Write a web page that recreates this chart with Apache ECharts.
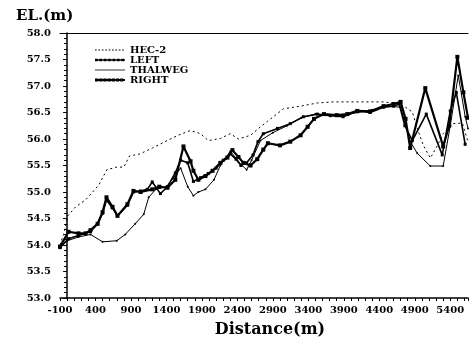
<!DOCTYPE html>
<html>
<head>
<meta charset="utf-8">
<script src="https://cdn.jsdelivr.net/npm/echarts@6/dist/echarts.min.js"></script>
<style>
html,body{margin:0;padding:0;background:#fff;}
#c{width:469px;height:343px;}
</style>
</head>
<body>
<div id="c"></div>
<script>
// ---- data (distance in m, elevation in m) ----
var seriesNames = ['HEC-2', 'LEFT', 'THALWEG', 'RIGHT'];

var hecX = [-100, -50, 10, 120, 260, 360, 450, 560, 700, 800, 880, 1030, 1200, 1410, 1565, 1735, 1880, 1990, 2160, 2300, 2415, 2585, 2725, 2820, 3050, 3290, 3530, 3750, 4030, 4460, 4700, 4865, 4935, 5020, 5120, 5220, 5300, 5440, 5570, 5650];
var hecY = [54.0, 54.2, 54.55, 54.72, 54.85, 55.0, 55.14, 55.42, 55.47, 55.47, 55.68, 55.72, 55.83, 55.97, 56.07, 56.16, 56.10, 55.97, 56.01, 56.10, 56.0, 56.07, 56.23, 56.33, 56.57, 56.62, 56.68, 56.70, 56.70, 56.70, 56.66, 56.51, 56.2, 55.88, 55.64, 55.88, 56.1, 56.29, 56.3, 55.95];

var leftX = [-100, 20, 160, 330, 430, 500, 555, 640, 710, 850, 935, 1035, 1130, 1200, 1315, 1415, 1525, 1600, 1700, 1780, 1880, 1990, 2100, 2200, 2300, 2380, 2450, 2530, 2620, 2690, 2765, 2965, 3145, 3330, 3525, 3710, 3890, 4090, 4270, 4460, 4600, 4680, 4760, 4865, 5062, 5287, 5400, 5485, 5610];
var leftY = [53.95, 54.12, 54.18, 54.25, 54.4, 54.6, 54.85, 54.7, 54.55, 54.75, 55.0, 55.02, 55.05, 55.19, 54.97, 55.1, 55.36, 55.6, 55.55, 55.2, 55.27, 55.35, 55.45, 55.6, 55.72, 55.62, 55.5, 55.55, 55.7, 55.95, 56.1, 56.2, 56.29, 56.42, 56.47, 56.44, 56.42, 56.53, 56.5, 56.6, 56.62, 56.66, 56.25, 55.97, 56.47, 55.7, 56.53, 56.88, 55.9];

var thalX = [-100, 0, 160, 330, 500, 700, 820, 960, 1080, 1150, 1250, 1400, 1500, 1600, 1700, 1780, 1850, 1950, 2070, 2160, 2300, 2380, 2450, 2530, 2600, 2725, 2900, 3100, 3300, 3500, 3700, 3900, 4100, 4300, 4500, 4700, 4837, 4935, 5118, 5300, 5400, 5513, 5611, 5650];
var thalY = [53.97, 54.08, 54.15, 54.2, 54.06, 54.08, 54.2, 54.4, 54.58, 54.9, 55.05, 55.1, 55.27, 55.45, 55.1, 54.93, 55.0, 55.05, 55.23, 55.5, 55.77, 55.64, 55.52, 55.42, 55.6, 55.97, 56.12, 56.25, 56.4, 56.47, 56.45, 56.45, 56.5, 56.55, 56.62, 56.6, 55.95, 55.73, 55.49, 55.49, 56.25, 57.2, 56.42, 56.2];

var rightX = [-100, 20, 160, 260, 330, 430, 500, 555, 640, 710, 850, 935, 1035, 1200, 1300, 1415, 1525, 1640, 1740, 1780, 1850, 1950, 2050, 2160, 2260, 2330, 2415, 2485, 2585, 2680, 2765, 2830, 3000, 3145, 3290, 3390, 3480, 3620, 3800, 3950, 4090, 4270, 4460, 4600, 4700, 4770, 4835, 5048, 5300, 5385, 5500, 5585, 5650];
var rightY = [53.97, 54.25, 54.22, 54.22, 54.28, 54.4, 54.62, 54.9, 54.72, 54.55, 54.77, 55.02, 55.0, 55.05, 55.1, 55.08, 55.23, 55.86, 55.58, 55.4, 55.23, 55.3, 55.4, 55.55, 55.65, 55.79, 55.66, 55.55, 55.5, 55.62, 55.8, 55.92, 55.88, 55.95, 56.07, 56.23, 56.38, 56.47, 56.45, 56.47, 56.53, 56.52, 56.62, 56.66, 56.7, 56.38, 55.83, 56.96, 55.86, 56.25, 57.55, 56.88, 56.4];

var xMin = -100, xMax = 5650, xStep = 500;
var yMin = 53.0, yMax = 58.0, yStep = 0.5;

function pairs(xs, ys) { return xs.map(function (x, i) { return [x, ys[i]]; }); }

// legend sample glyphs (30 x 8 box; corner points keep the box size)
var BOX = 'M0,0L0,0M30,8L30,8';
function dotsPath() {
  var p = BOX;
  for (var x = 0; x < 30; x += 3.4) p += 'M' + x + ',3.5h1.7v1h-1.7z';
  return 'path://' + p;
}
function linePath(h, sq, step) {
  var p = BOX + 'M0,' + (4 - h / 2) + 'h30v' + h + 'h-30z';
  if (sq) for (var x = 0; x <= 30 - sq; x += step) p += 'M' + x + ',' + (4 - sq / 2) + 'h' + sq + 'v' + sq + 'h-' + sq + 'z';
  return 'path://' + p;
}
var legendIcons = [dotsPath(), linePath(1.6, 2.6, 4.4), linePath(0.8, 0, 0), linePath(2.2, 3.2, 4.2)];

var FONT = '"DejaVu Serif", serif';
var chart = echarts.init(document.getElementById('c'), null, { renderer: 'canvas' });
chart.setOption({
  animation: false,
  backgroundColor: '#fff',
  title: {
    text: 'EL.(m)', left: 11, top: 4,
    textStyle: { fontFamily: FONT, fontWeight: 'bold', fontSize: 15, color: '#000' }
  },
  grid: { left: 60, right: 1, top: 33, bottom: 41, containLabel: false },
  legend: {
    orient: 'vertical', left: 95, top: 45, padding: 0,
    itemWidth: 30, itemHeight: 8, itemGap: 0,
    data: seriesNames.map(function (n, i) { return { name: n, icon: legendIcons[i] }; }),
    itemStyle: { color: '#000', borderWidth: 0 },
    textStyle: { fontFamily: FONT, fontWeight: 'bold', fontSize: 10, color: '#000', lineHeight: 8 }
  },
  xAxis: [{
    type: 'value', min: xMin, max: xMax, interval: xStep,
    name: 'Distance(m)', nameLocation: 'middle', nameGap: 24,
    nameTextStyle: { fontFamily: FONT, fontWeight: 'bold', fontSize: 16, color: '#000', padding: [0, 0, 0, 12] },
    axisLine: { lineStyle: { color: '#000', width: 1.5 } },
    axisTick: { show: true, length: 3, lineStyle: { color: '#000' } },
    minorTick: { show: true, splitNumber: 5, length: 3, lineStyle: { color: '#000' } },
    splitLine: { show: false },
    axisLabel: {
      margin: 7, fontFamily: FONT, fontWeight: 'bold', fontSize: 10, color: '#000',
      showMaxLabel: false,
      formatter: function (v) { return String(Math.round(v)); }
    }
  }, {
    type: 'value', position: 'top', min: xMin, max: xMax,
    axisLine: { show: true, onZero: false, lineStyle: { color: '#000', width: 1 } },
    axisTick: { show: false }, axisLabel: { show: false }, splitLine: { show: false }
  }],
  yAxis: {
    type: 'value', min: yMin, max: yMax, interval: yStep,
    axisLine: { show: true, lineStyle: { color: '#000', width: 1.5 } },
    axisTick: { show: true, length: 4, lineStyle: { color: '#000' } },
    minorTick: { show: true, splitNumber: 5, length: 3, lineStyle: { color: '#000' } },
    splitLine: { show: false },
    axisLabel: {
      margin: 9, fontFamily: FONT, fontWeight: 'bold', fontSize: 10, color: '#000',
      formatter: function (v) { return v.toFixed(1); }
    }
  },
  series: [{
    name: 'HEC-2', type: 'line', data: pairs(hecX, hecY),
    showSymbol: false, symbol: 'none',
    lineStyle: { color: '#000', width: 1, type: [2, 3] },
    itemStyle: { color: '#000' }
  }, {
    name: 'LEFT', type: 'line', data: pairs(leftX, leftY),
    symbol: 'rect', symbolSize: 3, showSymbol: true,
    lineStyle: { color: '#000', width: 1.6 },
    itemStyle: { color: '#000' }
  }, {
    name: 'THALWEG', type: 'line', data: pairs(thalX, thalY),
    symbol: 'circle', symbolSize: 2, showSymbol: true,
    lineStyle: { color: '#000', width: 1 },
    itemStyle: { color: '#000' }
  }, {
    name: 'RIGHT', type: 'line', data: pairs(rightX, rightY),
    symbol: 'rect', symbolSize: 4, showSymbol: true,
    lineStyle: { color: '#000', width: 2.2 },
    itemStyle: { color: '#000' }
  }]
});
</script>
</body>
</html>
